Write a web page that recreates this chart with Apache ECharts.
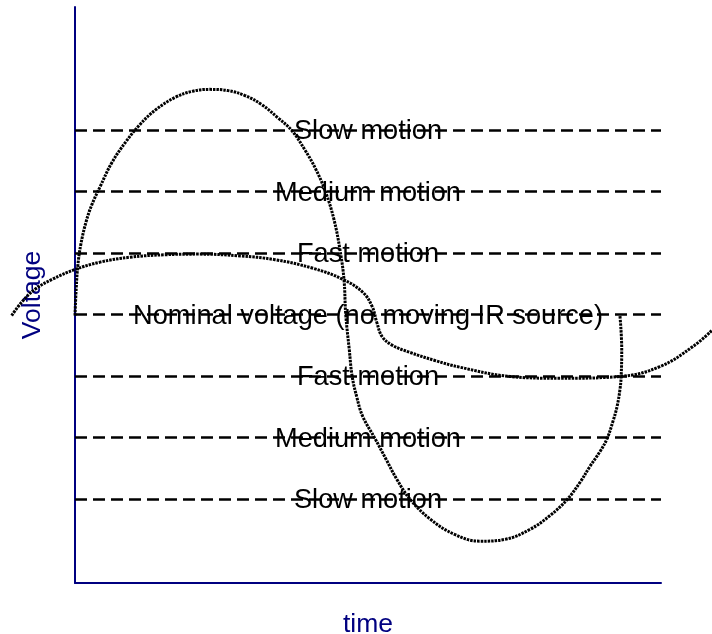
<!DOCTYPE html>
<html>
<head>
<meta charset="utf-8">
<script src="https://cdn.jsdelivr.net/npm/echarts@6/dist/echarts.min.js"></script>
<style>
  html, body { margin: 0; padding: 0; background: #fff; }
  #chart { width: 712px; height: 634px; }
</style>
</head>
<body>
<div id="chart"></div>
<script>
// voltage levels of the dashed reference lines and their labels
const levels = [3, 2, 1, 0, -1, -2, -3];
const levelNames = ['Slow motion', 'Medium motion', 'Fast motion',
  'Nominal voltage (no moving IR source)', 'Fast motion', 'Medium motion', 'Slow motion'];
const labelTime = 5;

// big loop: [time, voltage]
const loopCurve = [
  [0.00, -0.02], [0.02, 0.41], [0.05, 0.81], [0.10, 1.14], [0.19, 1.51], [0.29, 1.79],
  [0.43, 2.08], [0.63, 2.47], [0.87, 2.81], [1.11, 3.09], [1.38, 3.33], [1.71, 3.53],
  [2.01, 3.63], [2.30, 3.66], [2.61, 3.64], [2.90, 3.56], [3.19, 3.41], [3.46, 3.20],
  [3.70, 2.99], [3.92, 2.68], [4.11, 2.36], [4.28, 1.98], [4.42, 1.54], [4.52, 1.06],
  [4.59, 0.57], [4.62, 0.00], [4.68, -0.57], [4.73, -1.01], [4.81, -1.35], [4.91, -1.66],
  [5.12, -2.02], [5.31, -2.36], [5.49, -2.68], [5.72, -3.01], [6.06, -3.33], [6.48, -3.58],
  [6.91, -3.69], [7.34, -3.66], [7.76, -3.50], [8.11, -3.27], [8.40, -3.01], [8.62, -2.73],
  [8.79, -2.47], [8.96, -2.23], [9.08, -2.02], [9.18, -1.74], [9.25, -1.50], [9.30, -1.22],
  [9.32, -1.01], [9.33, -0.57], [9.30, -0.03]
];

// flat wave: [time, voltage]
const waveCurve = [
  [-1.08, -0.02], [-0.90, 0.21], [-0.68, 0.41], [-0.39, 0.57], [0.00, 0.73], [0.43, 0.85],
  [0.94, 0.93], [1.54, 0.97], [2.13, 0.98], [2.82, 0.95], [3.41, 0.89], [4.06, 0.75],
  [4.57, 0.57], [4.91, 0.36], [5.07, 0.13], [5.15, -0.13], [5.24, -0.36], [5.41, -0.50],
  [5.72, -0.62], [6.14, -0.75], [6.57, -0.86], [7.42, -1.01], [8.28, -1.04], [9.30, -1.01],
  [9.98, -0.85], [10.55, -0.52], [10.87, -0.26]
];

const navy = '#000080';
const font = 'Liberation Sans';

// plot area in px, the curves use a second full-width grid with the same scale
const plotLeft = 75, plotRight = 51, plotTop = 7, plotBottom = 51;
const pxPerTime = (712 - plotLeft - plotRight) / 10;

const hiddenAxis = {
  axisLine: { show: false }, axisTick: { show: false },
  axisLabel: { show: false }, splitLine: { show: false }
};

const chart = echarts.init(document.getElementById('chart'));
const option = {
  animation: false,
  grid: [
    { left: plotLeft, right: plotRight, top: plotTop, bottom: plotBottom, outerBoundsMode: 'none' },
    { left: 0, right: 0, top: plotTop, bottom: plotBottom, outerBoundsMode: 'none' }
  ],
  xAxis: [
    {
      type: 'value',
      gridIndex: 0,
      min: 0,
      max: 10,
      name: 'time',
      nameLocation: 'middle',
      nameGap: 28,
      nameTextStyle: { color: navy, fontSize: 26.5, fontFamily: font },
      axisLine: { show: true, onZero: false, lineStyle: { color: navy, width: 2 } },
      axisTick: { show: false },
      axisLabel: { show: false },
      splitLine: { show: false }
    },
    Object.assign({
      type: 'value',
      gridIndex: 1,
      min: -plotLeft / pxPerTime,
      max: 10 + plotRight / pxPerTime
    }, hiddenAxis)
  ],
  yAxis: [
    {
      type: 'value',
      gridIndex: 0,
      min: -4.37,
      max: 5,
      name: 'Voltage',
      nameLocation: 'middle',
      nameGap: 29,
      nameTextStyle: { color: navy, fontSize: 26.5, fontFamily: font },
      axisLine: { show: true, onZero: false, lineStyle: { color: navy, width: 2 } },
      axisTick: { show: false },
      axisLabel: { show: false },
      splitLine: { show: false }
    },
    Object.assign({
      type: 'value',
      gridIndex: 1,
      min: -4.37,
      max: 5
    }, hiddenAxis)
  ],
  series: [
    {
      type: 'scatter',
      xAxisIndex: 0,
      yAxisIndex: 0,
      symbolSize: 0,
      silent: true,
      itemStyle: { opacity: 1 },
      data: levels.map((v, i) => [labelTime, v, levelNames[i]]),
      label: {
        show: true,
        position: 'inside',
        offset: [0, 2],
        formatter: p => p.value[2],
        color: '#000',
        opacity: 1,
        fontSize: 27.2,
        fontFamily: font
      },
      markLine: {
        silent: true,
        symbol: 'none',
        label: { show: false },
        lineStyle: { color: '#000', type: [12, 6], width: 2.5, opacity: 1 },
        data: levels.map(v => ({ yAxis: v }))
      },
      z: 3
    },
    {
      type: 'line',
      xAxisIndex: 1,
      yAxisIndex: 1,
      data: loopCurve,
      showSymbol: false,
      smooth: 0.4,
      lineStyle: { color: '#000', width: 3, type: [2.5, 1] },
      z: 4
    },
    {
      type: 'line',
      xAxisIndex: 1,
      yAxisIndex: 1,
      data: waveCurve,
      showSymbol: false,
      smooth: 0.4,
      lineStyle: { color: '#000', width: 3, type: [2.5, 1] },
      z: 4
    }
  ]
};
chart.setOption(option);
</script>
</body>
</html>
